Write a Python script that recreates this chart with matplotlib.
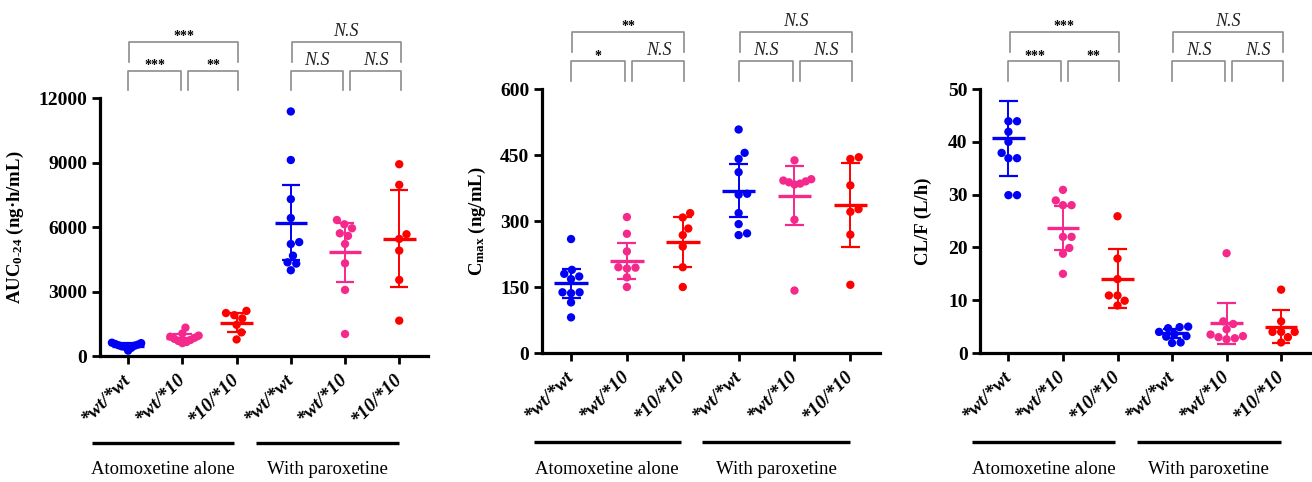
import numpy as np
import matplotlib
matplotlib.use('Agg')
import matplotlib.pyplot as plt
from matplotlib.transforms import blended_transform_factory

plt.rcParams['font.family'] = ['Liberation Serif', 'DejaVu Serif']
plt.rcParams['mathtext.fontset'] = 'custom'
plt.rcParams['mathtext.rm'] = 'Liberation Serif:bold'
plt.rcParams['mathtext.bf'] = 'Liberation Serif:bold'
plt.rcParams['mathtext.it'] = 'Liberation Serif:bold:italic'
plt.rcParams['mathtext.default'] = 'rm'

# ---- data ----
genotypes = ['*wt/*wt', '*wt/*10', '*10/*10', '*wt/*wt', '*wt/*10', '*10/*10']
group_names = ['Atomoxetine alone', 'With paroxetine']
colors = ['#0000F5', '#F5288C', '#FF0000', '#0000F5', '#F5288C', '#FF0000']

# AUC0-24 (ng.h/mL)
auc_alone_wt = [620, 600, 560, 530, 500, 480, 450, 420, 380, 250]
auc_alone_het = [1320, 1050, 950, 900, 850, 800, 750, 700, 650, 600]
auc_alone_mut = [2100, 2000, 1900, 1750, 1450, 1100, 770]
auc_par_wt = [11380, 9120, 7300, 6420, 5300, 5210, 4670, 4360, 4300, 3990]
auc_par_het = [6330, 6130, 5945, 5710, 5590, 5215, 4315, 3075, 1024]
auc_par_mut = [8925, 7965, 5665, 5450, 4905, 3540, 1645]
auc_mean = [480, 850, 1550, 6210, 4820, 5460]
auc_sd = [110, 160, 450, 1750, 1360, 2270]

# Cmax (ng/mL)
cmax_alone_wt = [259, 189, 180, 174, 168, 138, 136, 138, 115, 81]
cmax_alone_het = [309, 271, 231, 195, 194, 192, 172, 150]
cmax_alone_mut = [318, 308, 283, 268, 242, 195, 150]
cmax_par_wt = [508, 455, 441, 411, 362, 360, 318, 293, 272, 268]
cmax_par_het = [438, 395, 392, 390, 388, 385, 383, 303, 142]
cmax_par_mut = [445, 441, 381, 327, 321, 269, 155]
cmax_mean = [158, 209, 252, 369, 358, 336]
cmax_sd = [34, 40, 57, 60, 68, 95]

# CL/F (L/h)
cl_alone_wt = [43.9, 43.9, 41.9, 40.0, 37.9, 36.9, 36.9, 29.9, 29.9]
cl_alone_het = [30.9, 28.9, 28.0, 28.0, 22.0, 22.0, 19.9, 18.8, 15.0]
cl_alone_mut = [25.9, 17.9, 14.0, 10.9, 10.9, 9.9, 9.0]
cl_par_wt = [5.0, 4.9, 4.7, 4.0, 3.6, 3.2, 3.1, 2.0, 1.9]
cl_par_het = [18.9, 6.0, 5.5, 4.5, 3.5, 3.2, 3.0, 2.8, 2.6]
cl_par_mut = [12.0, 6.0, 4.0, 4.0, 4.0, 3.0, 2.0]
cl_mean = [40.7, 23.7, 14.1, 3.7, 5.6, 5.0]
cl_sd = [7.1, 4.1, 5.6, 0.8, 3.9, 3.1]

# significance labels: (pair 0-1, pair 1-2, pair 0-2) per treatment
auc_sig = [['***', '**', '***'], ['N.S', 'N.S', 'N.S']]
cmax_sig = [['*', 'N.S', '**'], ['N.S', 'N.S', 'N.S']]
cl_sig = [['***', '**', '***'], ['N.S', 'N.S', 'N.S']]

panels = [
    dict(data=[auc_alone_wt, auc_alone_het, auc_alone_mut, auc_par_wt, auc_par_het, auc_par_mut],
         mean=auc_mean, sd=auc_sd, sig=auc_sig, yticks=[0, 3000, 6000, 9000, 12000],
         ylabel='AUC$_{0\\text{-}24}$ (ng·h/mL)', rect=[0.0762, 0.2614, 0.250, 0.535], lab=-0.225),
    dict(data=[cmax_alone_wt, cmax_alone_het, cmax_alone_mut, cmax_par_wt, cmax_par_het, cmax_par_mut],
         mean=cmax_mean, sd=cmax_sd, sig=cmax_sig, yticks=[0, 150, 300, 450, 600],
         ylabel='C$_{max}$ (ng/mL)', rect=[0.4131, 0.2676, 0.2576, 0.5477], lab=-0.16),
    dict(data=[cl_alone_wt, cl_alone_het, cl_alone_mut, cl_par_wt, cl_par_het, cl_par_mut],
         mean=cl_mean, sd=cl_sd, sig=cl_sig, yticks=[0, 10, 20, 30, 40, 50],
         ylabel='CL/F (L/h)', rect=[0.747, 0.2676, 0.2515, 0.5477], lab=-0.145),
]

W, H = 1312, 482
XLIM = (-0.52, 5.53)


def swarm(vals, ypx, xpx, d, maxw=0.3):
    # simple beeswarm: place each point at the smallest |dx| that does not overlap
    vals = np.asarray(vals, float)
    order = np.argsort(vals)
    placed = []
    offs = np.zeros(len(vals))
    for i in order:
        y = vals[i] * ypx
        cands = [0.0]
        for px, py in placed:
            dy = abs(py - y)
            if dy < d:
                dx = np.sqrt(d * d - dy * dy)
                cands += [px + dx, px - dx]
        cands.sort(key=abs)
        for c in cands:
            if all((c - px) ** 2 + (y - py) ** 2 >= d * d - 1e-6 for px, py in placed):
                break
        placed.append((c, y))
        offs[i] = c / xpx
    # squeeze crowded groups so they stay inside the column
    if np.abs(offs).max() > maxw:
        offs *= maxw / np.abs(offs).max()
    return offs


def bracket(ax, x1, x2, y0, y1, text):
    tr = blended_transform_factory(ax.transData, ax.transAxes)
    ax.plot([x1, x1, x2, x2], [y0, y1, y1, y0], color='#8c8c8c', lw=1.2,
            transform=tr, clip_on=False)
    if text == 'N.S':
        ax.text((x1 + x2) / 2, y1 + 0.008, text, transform=tr, ha='center', va='bottom',
                fontsize=13, fontstyle='italic', color='#222222')
    else:
        ax.text((x1 + x2) / 2, y1 - 0.005, text, transform=tr, ha='center', va='bottom',
                fontsize=10, fontweight='bold', color='black')


fig = plt.figure(figsize=(W / 100, H / 100), dpi=100)

for p in panels:
    ax = fig.add_axes(p['rect'])
    ymax = p['yticks'][-1]
    ax.set_xlim(*XLIM)
    ax.set_ylim(0, ymax)
    ypx = p['rect'][3] * H / ymax
    xpx = p['rect'][2] * W / (XLIM[1] - XLIM[0])

    for k, vals in enumerate(p['data']):
        off = swarm(vals, ypx, xpx, 8.6)
        ax.scatter(k + off, vals, s=36, color=colors[k], edgecolor='none', zorder=3, clip_on=False)
        m, s = p['mean'][k], p['sd'][k]
        ax.plot([k - 0.3, k + 0.3], [m, m], color=colors[k], lw=2.4, zorder=4, solid_capstyle='butt')
        ax.plot([k, k], [m - s, m + s], color=colors[k], lw=1.4, zorder=4)
        for e in (m - s, m + s):
            ax.plot([k - 0.17, k + 0.17], [e, e], color=colors[k], lw=1.6, zorder=4,
                    solid_capstyle='butt')

    for side in ('top', 'right'):
        ax.spines[side].set_visible(False)
    for side in ('left', 'bottom'):
        ax.spines[side].set_linewidth(2.3)
    ax.tick_params(axis='y', direction='out', length=6, width=2.0, pad=3)
    ax.tick_params(axis='x', direction='out', length=6, width=2.0, pad=9)
    ax.set_yticks(p['yticks'], [str(t) for t in p['yticks']], fontsize=14, fontweight='bold')
    ax.set_xticks(range(6), genotypes, rotation=45, ha='right', va='center',
                  rotation_mode='anchor', fontsize=14, fontweight='bold', fontstyle='italic')
    ax.set_ylabel(p['ylabel'], fontsize=13.5, fontweight='bold')
    ax.yaxis.set_label_coords(p['lab'], 0.5)

    # significance brackets
    for g in range(2):
        b = g * 3
        s01, s12, s02 = p['sig'][g]
        bracket(ax, b + 0.0, b + 0.97, 1.03, 1.105, s01)
        bracket(ax, b + 1.1, b + 2.03, 1.03, 1.105, s12)
        bracket(ax, b + 0.02, b + 2.03, 1.14, 1.217, s02)

    # treatment group lines and labels
    tr = blended_transform_factory(ax.transData, ax.transAxes)
    for g, (x1, x2) in enumerate([(-0.67, 1.96), (2.35, 4.99)]):
        ax.plot([x1, x2], [-0.338, -0.338], color='black', lw=2.4, transform=tr,
                clip_on=False, solid_capstyle='butt')
        ax.text((x1 + x2) / 2, -0.44, group_names[g], transform=tr, ha='center',
                va='center', fontsize=13.5)

fig.savefig('out.png', dpi=100)
